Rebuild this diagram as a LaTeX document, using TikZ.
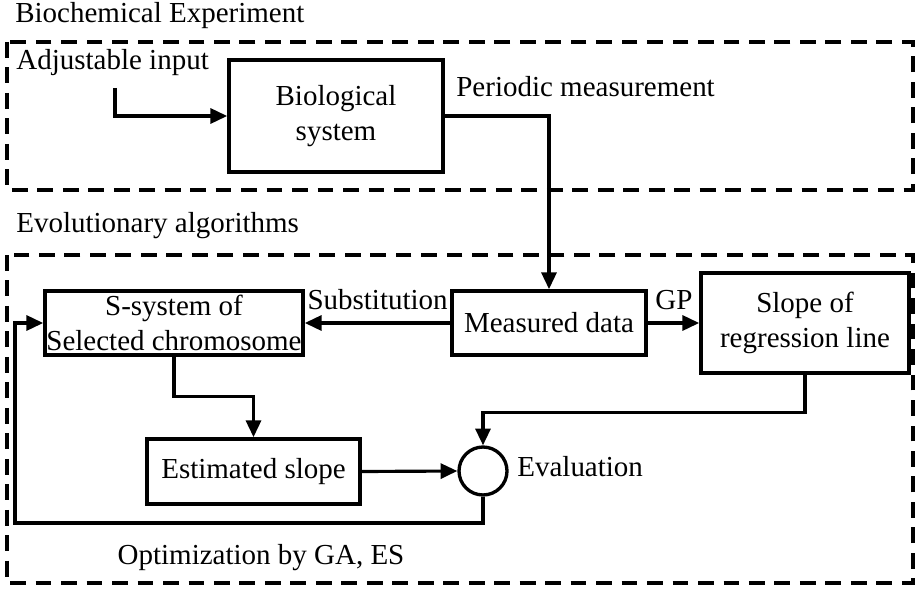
\documentclass[tikz,border=0pt]{standalone}
\usepackage{fontspec}
\setmainfont{Liberation Serif}
\usetikzlibrary{arrows.meta, positioning, shapes.geometric}

\begin{document}
\begin{tikzpicture}[
  x=0.02cm, y=-0.02cm,
  every node/.style={font=\fontsize{16.5}{19.5}\selectfont, inner sep=0pt},
  box/.style={draw, line width=2.1pt, align=center},
  region/.style={draw, line width=2.3pt, dash pattern=on 9pt off 5.5pt},
  arr/.style={line width=1.8pt, -{Triangle[length=9.5pt,width=8.5pt]}},
  lbl/.style={anchor=west}
]
  \useasboundingbox (0,0) rectangle (915,591);

  \draw[region] (7,42) rectangle (913,190);
  \draw[region] (7,255) rectangle (913,583);
  \node[lbl] (bioexp) at (15,16) {Biochemical Experiment};
  \node[lbl] (evoalg) at (16,226) {Evolutionary algorithms};
  \node (optim) at (261,558) {Optimization by GA, ES};

  \node[box, minimum width=4.28cm, minimum height=2.24cm] (bio) at (336,116) {Biological\\system};
  \node[box, minimum width=5.16cm, minimum height=1.28cm] (ssys) at (174,323) {S-system of\\Selected chromosome};
  \node[box, minimum width=3.88cm, minimum height=1.28cm] (meas) at (549,323) {Measured data};
  \node[box, minimum width=4.16cm, minimum height=2.0cm] (slope) at (805,323) {Slope of\\regression line};
  \node[box, minimum width=4.26cm, minimum height=1.3cm] (est) at (253.5,471.5) {Estimated slope};
  \node[circle, draw, line width=1.9pt, minimum size=0.96cm] (eval) at (483,471) {};

  \node[lbl] (adj) at (16,63) {Adjustable input};
  \node[lbl] (period) at (456,87) {Periodic measurement};
  \node[anchor=east] (subst) at (448,300) {Substitution};
  \node[lbl] (gp) at (655,300) {GP};
  \node[lbl] (evaltxt) at (517,467) {Evaluation};

  \coordinate (in) at (115,88);
  \coordinate (fb) at (15,523);
  \draw[arr] (in) |- (bio.west);
  \draw[arr] (bio.east) -| (meas.north);
  \draw[arr] (meas.west) -- (ssys.east);
  \draw[arr] (meas.east) -- (slope.west);
  \draw[arr] (ssys.south) -- ++(0,40) -| (est.north);
  \draw[arr] (slope.south) -- ++(0,38) -| (eval.north);
  \draw[arr] (est.east) -- (eval.west);
  \draw[arr] (eval.south) |- (fb) |- (ssys.west);
\end{tikzpicture}
\end{document}
